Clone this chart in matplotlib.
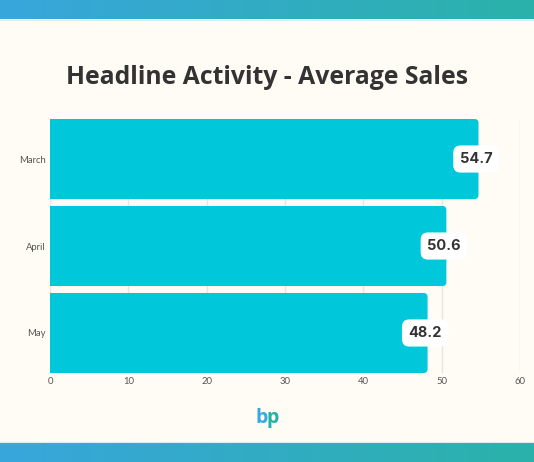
import numpy as np
import matplotlib
matplotlib.use("Agg")
import matplotlib.pyplot as plt
from matplotlib.patches import FancyBboxPatch
from matplotlib.colors import LinearSegmentedColormap

categories = ["March", "April", "May"]
values = [54.7, 50.6, 48.2]
xticks = [0, 10, 20, 30, 40, 50, 60]
title = "Headline Activity - Average Sales"

BG = "#FFFBF5"
BAR = "#00C8DA"
W, H = 534, 462

fig = plt.figure(figsize=(W / 100, H / 100), dpi=100, facecolor=BG)

# gradient bands
cmap = LinearSegmentedColormap.from_list("band", ["#38A6DC", "#2BB2AA"])
grad = np.linspace(0, 1, 256).reshape(1, -1)
for y0, h in [(0, 19), (442, 20)]:
    bax = fig.add_axes([0, 1 - (y0 + h) / H, 1, h / H])
    bax.imshow(grad, aspect="auto", cmap=cmap)
    bax.axis("off")
fig.add_artist(plt.Line2D([0, 1], [1 - 19.5 / H] * 2, color="#D8EEF0", lw=0.8))
fig.add_artist(plt.Line2D([0, 1], [1 - 441.5 / H] * 2, color="#D8EEF0", lw=0.8))

ax_left, ax_right = 50, 520
ax_top, ax_bot = 119, 373
ax = fig.add_axes([ax_left / W, 1 - ax_bot / H, (ax_right - ax_left) / W, (ax_bot - ax_top) / H])
ax.set_facecolor(BG)

bh = 0.92
ypos = np.arange(len(categories))
bars = ax.barh(ypos, values, height=bh, color=BAR, zorder=2)
ax.set_xlim(0, 60)
ax.set_ylim(len(categories) - 1 + bh / 2, -bh / 2)

# rounded bars
px_x = (ax_right - ax_left) / 60.0
px_y = (ax_bot - ax_top) / (len(categories) - 1 + bh)
for b in bars:
    b.set_visible(False)
    x0, y0, w, h = b.get_x(), b.get_y(), b.get_width(), b.get_height()
    r = 4.0 / px_x
    p = FancyBboxPatch((x0 - 2, y0 + r * px_x / px_y), w + 2 - r, h - 2 * r * px_x / px_y,
                       boxstyle=f"round,pad={r},rounding_size={r}",
                       mutation_aspect=px_x / px_y, fc=BAR, ec="none", zorder=2)
    ax.add_patch(p)

for v, y in zip(values, ypos):
    ax.text(v - 0.3, y, f"{v}", ha="center", va="center", fontsize=10.5,
            fontweight="bold", family="Inter", color="#333333", zorder=4,
            bbox=dict(boxstyle="round,pad=0.45,rounding_size=0.5", fc="white", ec="none"))

ax.set_xticks(xticks)
ax.set_yticks(ypos)
ax.set_yticklabels(categories)
ax.grid(axis="x", color="#E6E6E6", lw=1, zorder=0)
ax.set_axisbelow(True)
for s in ax.spines.values():
    s.set_visible(False)
ax.tick_params(length=0, labelsize=6.8, labelcolor="#555555", pad=3)
for lab in ax.get_xticklabels() + ax.get_yticklabels():
    lab.set_family("Lato")

fig.text(0.5, 1 - 78 / H, title, ha="center", va="center", fontsize=17.8,
         fontweight="bold", family="Open Sans", color="#333333")

# logo
fig.text(0.5 - 0.0105, 1 - 418 / H, "b", ha="center", va="center", fontsize=14,
         fontweight="bold", family="Open Sans", color="#3AA8E0")
fig.text(0.5 + 0.0105, 1 - 418 / H, "p", ha="center", va="center", fontsize=14,
         fontweight="bold", family="Open Sans", color="#1FB3A3")

fig.savefig("out.png", dpi=100, facecolor=BG)
